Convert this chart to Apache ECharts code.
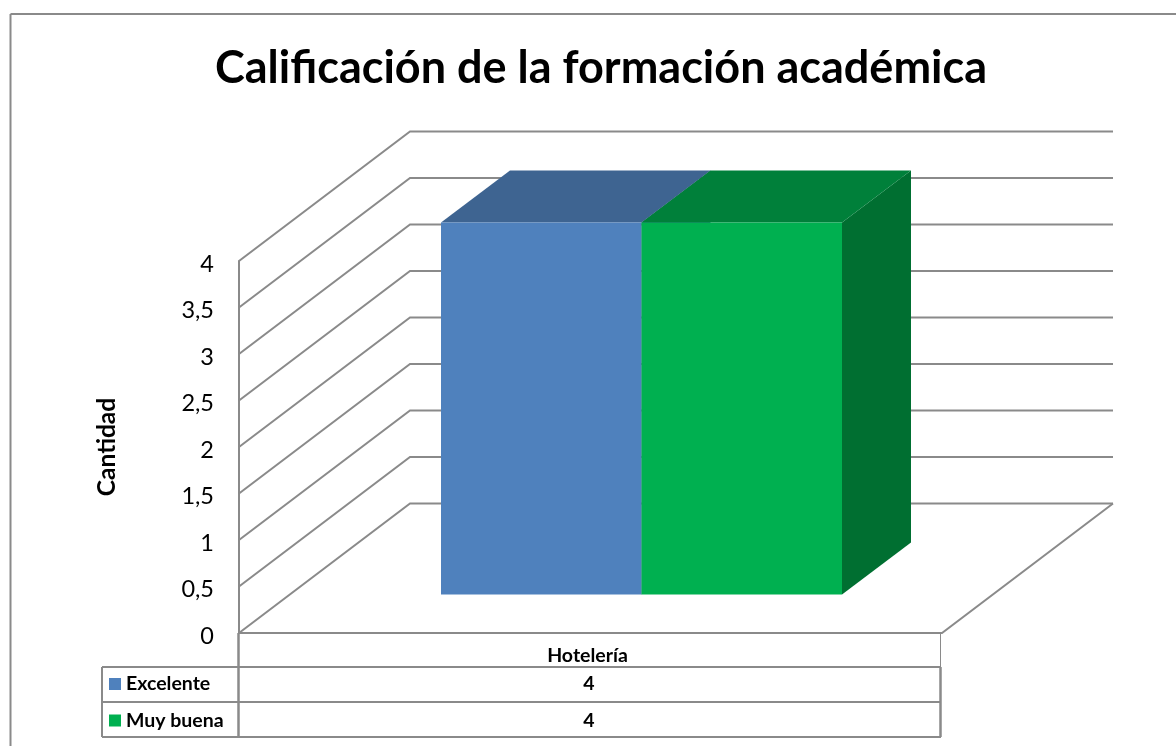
<!DOCTYPE html>
<html>
<head>
<meta charset="utf-8">
<title>Calificación de la formación académica</title>
<script src="https://cdn.jsdelivr.net/npm/echarts@6/dist/echarts.min.js"></script>
<style>
html,body{margin:0;padding:0;background:#fff;}
#chart1{width:1176px;height:746px;}
</style>
</head>
<body>
<div id="chart1"></div>
<script>
var categories=['Hotelería'];
var seriesNames=['Excelente','Muy buena'];
var excelente=[4];
var muyBuena=[4];
var yTicks=[0,0.5,1,1.5,2,2.5,3,3.5,4];

var fontName='Lato';
var lineColor='#8a8a8a';
var depthX=171,depthY=-129.5;  //fondo de la caja 3D
var barDX=51,barDY=-38.5,barW=200.5,barDepthX=69,barDepthY=-52;

//paredes y piso
function renderWall(params,api){
    var p=api.coord([0,api.value(0)]);
    var size=api.size([1,0]);
    var x0=p[0]-size[0]/2;
    return {
        type:'polyline',
        shape:{points:[[x0,p[1]],[x0+depthX,p[1]+depthY],[x0+size[0]+depthX,p[1]+depthY]]},
        style:{fill:null,stroke:lineColor,lineWidth:2}
    };
}
function renderFloor(params,api){
    var p=api.coord([0,0]);
    var size=api.size([1,0]);
    var x0=p[0]-size[0]/2,x1=p[0]+size[0]/2;
    return {
        type:'polyline',
        shape:{points:[[x1+depthX,p[1]+depthY],[x1,p[1]],[x0,p[1]]]},
        style:{fill:null,stroke:lineColor,lineWidth:2}
    };
}
//barra 3D
function makeBar(front,top,side,idx){
    return function(params,api){
        var c=api.coord([api.value(0),api.value(1)]);
        var b=api.coord([api.value(0),0]);
        var xl=c[0]+barDX-barW+idx*barW,xr=xl+barW;
        var yt=c[1]+barDY,yb=b[1]+barDY;
        return {
            type:'group',
            children:[
                {type:'polygon',shape:{points:[[xr,yt],[xr+barDepthX,yt+barDepthY],[xr+barDepthX,yb+barDepthY],[xr,yb]]},style:{fill:side}},
                {type:'polygon',shape:{points:[[xl,yt],[xl+barDepthX,yt+barDepthY],[xr+barDepthX,yt+barDepthY],[xr,yt]]},style:{fill:top}},
                {type:'rect',shape:{x:xl,y:yt,width:barW,height:yb-yt},style:{fill:front}}
            ]
        };
    };
}

function tableLine(x1,y1,x2,y2,w){
    return {type:'line',silent:true,shape:{x1:x1,y1:y1,x2:x2,y2:y2},style:{stroke:lineColor,lineWidth:w||2}};
}
function tableText(x,y,text,align){
    return {type:'text',silent:true,x:x,y:y,style:{text:text,fill:'#000',font:'bold 19.5px '+fontName,align:align,verticalAlign:'middle'}};
}
var rows=[
    {name:seriesNames[0],color:'#4F81BD',value:excelente[0],y:684},
    {name:seriesNames[1],color:'#00B050',value:muyBuena[0],y:720.5}
];
var tableItems=[
    tableLine(10.5,14,1176,14,2),
    tableLine(10.5,14,10.5,746,2),
    tableLine(102,667,941,667),
    tableLine(102,702,941,702),
    tableLine(102,737,941,737),
    tableLine(102,667,102,737),
    tableLine(238.5,633,238.5,737,2.5),
    tableLine(940.5,633,940.5,667,1),
    tableLine(940.5,667,940.5,737,2.5)
];
for(var i=0;i<rows.length;i++){
    tableItems.push({type:'rect',silent:true,shape:{x:109,y:rows[i].y-6,width:12,height:12},style:{fill:rows[i].color}});
    tableItems.push(tableText(126,rows[i].y,rows[i].name,'left'));
    tableItems.push(tableText(589,rows[i].y,String(rows[i].value),'center'));
}

var chart1=echarts.init(document.getElementById('chart1'));
chart1.setOption({
    animation:false,
    backgroundColor:'#fff',
    title:{
        text:'Calificación de la formación académica',
        left:596,
        top:41,
        textAlign:'center',
        textStyle:{fontFamily:fontName,fontSize:45,fontWeight:'bold',color:'#000'}
    },
    grid:{left:239,top:261,width:703,height:372},
    xAxis:[{
        type:'category',
        data:categories,
        axisLine:{show:false},
        axisTick:{show:false},
        axisLabel:{
            margin:13,
            color:'#000',
            formatter:function(v){return '{a|'+v+'}';},
            rich:{a:{fontFamily:fontName,fontSize:19.5,fontWeight:'bold',padding:[0,6,0,0]}}
        }
    }],
    yAxis:[{
        type:'value',
        min:0,
        max:4,
        interval:0.5,
        name:'Cantidad',
        nameLocation:'middle',
        nameRotate:90,
        nameGap:119,
        nameTextStyle:{color:'#000',fontFamily:fontName,fontSize:24.5,fontWeight:'bold'},
        splitLine:{show:false},
        axisTick:{show:false},
        axisLine:{show:true,lineStyle:{color:lineColor,width:2}},
        axisLabel:{
            margin:25,
            color:'#000',
            formatter:function(v){return '{a|'+String(v).replace('.',',')+'}';},
            rich:{a:{fontFamily:fontName,fontSize:23.5,padding:[6,0,0,0]}}
        }
    }],
    graphic:tableItems,
    series:[
        {type:'custom',silent:true,clip:false,z:1,renderItem:renderWall,encode:{y:0},data:yTicks.map(function(v){return [v];})},
        {type:'custom',silent:true,clip:false,z:1,renderItem:renderFloor,data:[[0]]},
        {name:seriesNames[0],type:'custom',clip:false,z:2,renderItem:makeBar('#4F81BD','#3E6491','#3A5F8A',0),encode:{x:0,y:1},data:excelente.map(function(v,k){return [k,v];})},
        {name:seriesNames[1],type:'custom',clip:false,z:3,renderItem:makeBar('#00B050','#00803A','#006F31',1),encode:{x:0,y:1},data:muyBuena.map(function(v,k){return [k,v];})}
    ]
});
</script>
</body>
</html>
